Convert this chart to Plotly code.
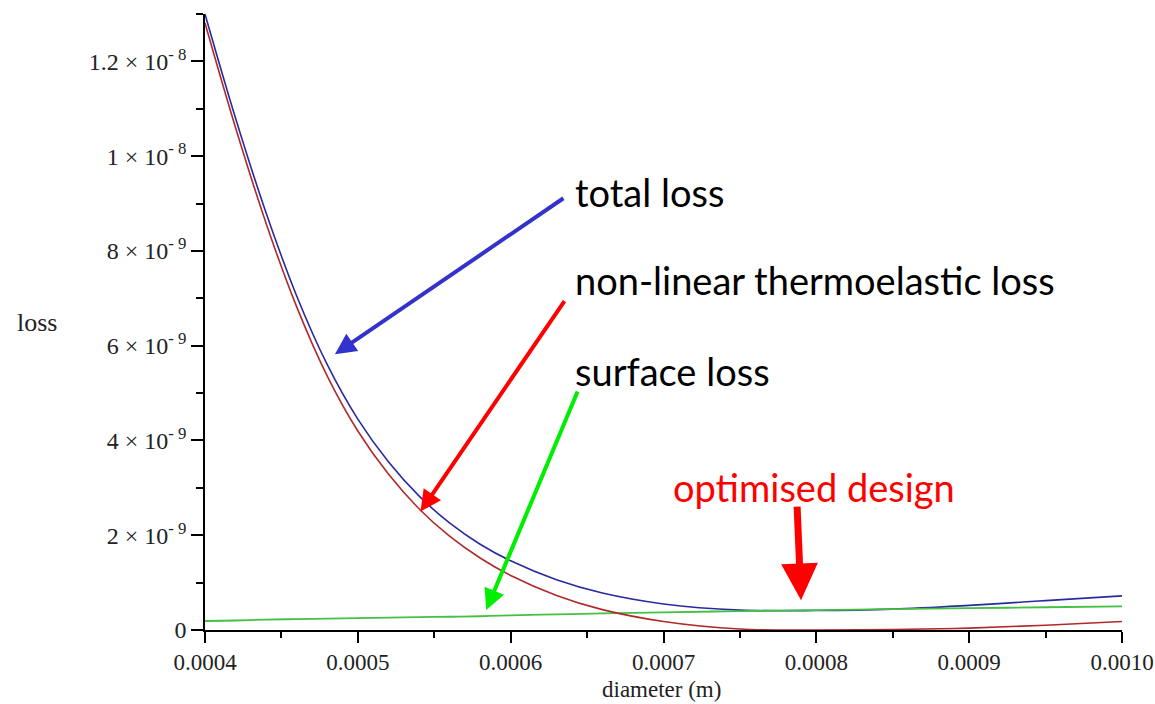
import plotly.graph_objects as go

# diameter (m) and loss values (x 1e-9)
diameter = [0.00040, 0.00042, 0.00044, 0.00046, 0.00048, 0.00050, 0.00052,
            0.00054, 0.00056, 0.00058, 0.00060, 0.00063, 0.00066, 0.00070,
            0.00075, 0.00080, 0.00085, 0.00090, 0.00095, 0.00100]
total_loss = [13.0, 10.8, 8.8, 7.05, 5.6, 4.45, 3.55, 2.83, 2.26, 1.81,
              1.46, 1.06, 0.78, 0.55, 0.42, 0.41, 0.44, 0.52, 0.62, 0.72]
thermoelastic_loss = [12.81, 10.6, 8.58, 6.82, 5.36, 4.2, 3.29, 2.56, 1.98, 1.52,
                      1.15, 0.73, 0.43, 0.18, 0.02, 0.0, 0.01, 0.04, 0.10, 0.18]
surface_loss = [0.19, 0.20, 0.22, 0.23, 0.24, 0.25, 0.26, 0.27, 0.28, 0.29,
                0.31, 0.33, 0.35, 0.37, 0.40, 0.42, 0.44, 0.46, 0.48, 0.50]
SCALE = 1e-9

x_ticks = [0.0004, 0.0005, 0.0006, 0.0007, 0.0008, 0.0009, 0.0010]
x_tick_text = ["0.0004", "0.0005", "0.0006", "0.0007", "0.0008", "0.0009", "0.0010"]
y_ticks = [0, 2e-9, 4e-9, 6e-9, 8e-9, 1e-8, 1.2e-8]
y_tick_text = ["0", "2 × 10<sup>- 9</sup>", "4 × 10<sup>- 9</sup>", "6 × 10<sup>- 9</sup>",
               "8 × 10<sup>- 9</sup>", "1 × 10<sup>- 8</sup>", "1.2 × 10<sup>- 8</sup>"]

SERIF = "Liberation Serif, Times New Roman, serif"
SANS = "Lato, Noto Sans, sans-serif"

W, H = 1155, 704
L, R, T, B = 205, 1122, 14, 630   # plot area in window pixels

fig = go.Figure()
fig.add_trace(go.Scatter(x=diameter, y=[v * SCALE for v in total_loss], mode="lines",
                         line=dict(color="#2a2aa0", width=1.6, shape="spline"),
                         name="total loss"))
fig.add_trace(go.Scatter(x=diameter, y=[v * SCALE for v in surface_loss], mode="lines",
                         line=dict(color="#44c044", width=1.8, shape="spline"),
                         name="surface loss"))
fig.add_trace(go.Scatter(x=diameter, y=[v * SCALE for v in thermoelastic_loss], mode="lines",
                         line=dict(color="#b02a2a", width=1.6, shape="spline"),
                         name="non-linear thermoelastic loss"))

axis_common = dict(showline=True, linecolor="black", linewidth=1.5, showgrid=False,
                   zeroline=False, ticks="outside", tickcolor="black", tickwidth=1.5,
                   automargin=False,
                   tickfont=dict(family=SERIF, size=23, color="#222222"))

fig.update_xaxes(range=[0.0004, 0.0010], tickvals=x_ticks, ticktext=x_tick_text,
                 ticklen=11, minor=dict(dtick=0.00005, ticks="outside", ticklen=6,
                                        tickcolor="black", tickwidth=1.5),
                 **axis_common)
fig.update_yaxes(range=[0, 1.3e-8], tickvals=y_ticks, ticktext=y_tick_text,
                 ticklen=12, minor=dict(dtick=1e-9, ticks="outside", ticklen=7,
                                        tickcolor="black", tickwidth=1.5),
                 **axis_common)
fig.update_yaxes(tickfont_size=24)

arrows = [
    # tip x, tip y, tail offset (px), colour, width
    (0.000485, 5.82e-9, 230, -157, "#3333cc", 4),
    (0.000541, 2.50e-9, 145, -212, "#ff0000", 4),
    (0.000584, 0.42e-9, 92, -220, "#00ee00", 4),
    (0.000790, 0.63e-9, -4, -95, "#ff0000", 7),
]
for x, y, ax, ay, color, width in arrows:
    fig.add_annotation(x=x, y=y, ax=ax, ay=ay, text="", showarrow=True,
                       arrowhead=2, arrowsize=1.05, arrowwidth=width, arrowcolor=color)


def paper(px, py):
    return (px - L) / (R - L), (B - py) / (B - T)


texts = [
    ("total loss", 573, 192, "black"),
    ("non-linear thermoelastic loss", 573, 280, "black"),
    ("surface loss", 573, 371, "black"),
    ("optimised design", 671, 487, "#ff0000"),
]
for text, px, py, color in texts:
    x, y = paper(px, py)
    fig.add_annotation(x=x, y=y, xref="paper", yref="paper",
                       text=text, showarrow=False, xanchor="left", yanchor="middle",
                       font=dict(family=SANS, size=38, color=color))

x, y = paper(37, 322)
fig.add_annotation(x=x, y=y, xref="paper", yref="paper",
                   text="loss", showarrow=False, xanchor="center", yanchor="middle",
                   font=dict(family=SERIF, size=26, color="#222222"))
x, y = paper(661, 689)
fig.add_annotation(x=x, y=y, xref="paper", yref="paper",
                   text="diameter (m)", showarrow=False, xanchor="center", yanchor="middle",
                   font=dict(family=SERIF, size=23, color="#222222"))

fig.update_layout(width=W, height=H, showlegend=False,
                  paper_bgcolor="white", plot_bgcolor="white",
                  margin=dict(l=L, r=W - R, t=T, b=H - B))

# drop the default page margin so the figure fills the window exactly
fig.write_html("out.html", config={"displayModeBar": False},
               post_script="document.body.style.margin='0';document.body.style.overflow='hidden';")
